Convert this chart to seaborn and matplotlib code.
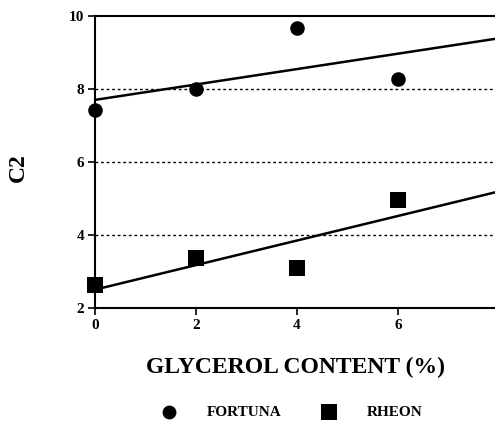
import matplotlib
matplotlib.use("Agg")
import matplotlib.pyplot as plt
import seaborn as sns
import pandas as pd

glycerol = [0, 2, 4, 6]
fortuna = [7.42, 7.99, 9.66, 8.27]
rheon = [2.63, 3.36, 3.10, 4.96]
series_names = ["FORTUNA", "RHEON"]
y_ticks = [2, 4, 6, 8, 10]
x_ticks = [0, 2, 4, 6]

df = pd.DataFrame({
    "glycerol": glycerol * 2,
    "C2": fortuna + rheon,
    "variety": [series_names[0]] * 4 + [series_names[1]] * 4,
})

sns.set_theme(style="white")
plt.rcParams["font.family"] = ["Liberation Serif", "DejaVu Serif"]
plt.rcParams["font.weight"] = "bold"
plt.rcParams["text.color"] = "black"

fig = plt.figure(figsize=(4.95, 4.21), dpi=100)
ax = fig.add_axes([95 / 495, 1 - 308 / 421, 1 - 95 / 495, (308 - 16) / 421])
ax.set_xlim(0, 7.92)
ax.set_ylim(2, 10)

for y in [4, 6, 8]:
    ax.axhline(y, color="black", lw=1.0, ls=(0, (2, 2)), zorder=0)

markers = {"FORTUNA": "o", "RHEON": "s"}
sizes = {"FORTUNA": 110, "RHEON": 130}
for name in series_names:
    sub = df[df["variety"] == name]
    sns.regplot(data=sub, x="glycerol", y="C2", ax=ax, ci=None, truncate=False,
                marker=markers[name], color="black", label=name,
                scatter_kws={"s": sizes[name], "alpha": 1, "linewidths": 0, "zorder": 3, "clip_on": False},
                line_kws={"lw": 1.8, "color": "black"})

ax.set_xlim(0, 7.92)
ax.set_ylim(2, 10)
ax.set_xticks(x_ticks)
ax.set_yticks(y_ticks)
ax.tick_params(axis="both", direction="out", length=5, width=1.2, color="black",
               labelsize=11, labelcolor="black", bottom=True, left=True, pad=3)
for lab in ax.get_xticklabels() + ax.get_yticklabels():
    lab.set_fontweight("bold")
for s in ["left", "bottom", "top"]:
    ax.spines[s].set_color("black")
    ax.spines[s].set_linewidth(1.5)
ax.spines["right"].set_visible(False)

ax.set_xlabel("GLYCEROL CONTENT (%)", fontsize=17, fontweight="bold", labelpad=18, color="black")
ax.set_ylabel("C2", fontsize=17, fontweight="bold", color="black")
ax.yaxis.set_label_coords(-0.165, 0.48)

handles, labels = ax.get_legend_handles_labels()
leg = fig.legend(handles, labels, loc="center", bbox_to_anchor=(292 / 495, 1 - 412 / 421),
                 bbox_transform=fig.transFigure, ncol=2, frameon=False,
                 fontsize=11, handletextpad=2.0, columnspacing=2.6, markerscale=0.95,
                 handlelength=1.0, borderaxespad=0, borderpad=0)
for t in leg.get_texts():
    t.set_fontweight("bold")
    t.set_color("black")

fig.savefig("out.png", dpi=100)
